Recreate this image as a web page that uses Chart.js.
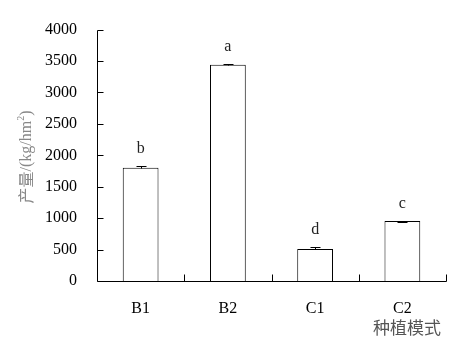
<!DOCTYPE html>
<html>
<head>
<meta charset="utf-8">
<script src="https://cdn.jsdelivr.net/npm/chart.js@4"></script>
<style>
  html, body { margin: 0; padding: 0; background: #fff; }
  #wrap { width: 459px; height: 344px; }
</style>
</head>
<body>
<div id="wrap"><canvas id="yield-chart"></canvas></div>
<script>
"use strict";

// data
var categories = ["B1", "B2", "C1", "C2"];
var yieldValues = [1800, 3440, 510, 955];
var errUp = [28, 12, 35, 0];
var errDown = [0, 0, 0, 22];
var sigLetters = ["b", "a", "d", "c"];
var yTicks = [0, 500, 1000, 1500, 2000, 2500, 3000, 3500, 4000];

var serif = "'Liberation Serif', 'Times New Roman', serif";
var cjk = "'Noto Sans CJK SC', sans-serif";

// axes, inner tick marks, error bars, letters and axis titles
var decorations = {
  id: "decorations",
  afterDraw: function(chart) {
    var ctx = chart.ctx;
    var x = chart.scales.x, y = chart.scales.y;
    var meta = chart.getDatasetMeta(0);
    var axX = Math.round(y.right) + 0.5;
    var axY = Math.round(y.getPixelForValue(0)) + 0.5;
    var step = x.getPixelForValue(1) - x.getPixelForValue(0);
    var right = x.getPixelForValue(categories.length - 1) + step / 2;

    ctx.save();
    ctx.lineWidth = 1;
    ctx.strokeStyle = "#000";
    ctx.beginPath();
    // axis lines
    ctx.moveTo(axX, Math.round(y.getPixelForValue(4000)) + 0.5);
    ctx.lineTo(axX, axY);
    ctx.lineTo(Math.round(right) + 0.5, axY);
    // y ticks pointing inward
    yTicks.forEach(function(t) {
      var py = Math.round(y.getPixelForValue(t)) + 0.5;
      ctx.moveTo(axX, py);
      ctx.lineTo(axX + 6, py);
    });
    // x ticks at category boundaries, pointing up
    for (var i = 0; i < categories.length; i++) {
      var px = Math.round(x.getPixelForValue(i) + step / 2) + 0.5;
      ctx.moveTo(px, axY);
      ctx.lineTo(px, axY - 7);
    }
    ctx.stroke();

    meta.data.forEach(function(bar, i) {
      var v = yieldValues[i];
      var cx = Math.round(bar.x) + 0.5;
      var top = Math.round(y.getPixelForValue(v + errUp[i])) + 0.5;
      var bot = Math.round(y.getPixelForValue(v - errDown[i])) + 0.5;
      ctx.beginPath();
      ctx.moveTo(cx, top);
      ctx.lineTo(cx, bot);
      if (errUp[i]) { ctx.moveTo(cx - 5, top); ctx.lineTo(cx + 5, top); }
      if (errDown[i]) { ctx.moveTo(cx - 5, bot); ctx.lineTo(cx + 5, bot); }
      ctx.stroke();

      ctx.fillStyle = "#222";
      ctx.font = "16px " + serif;
      ctx.textAlign = "center";
      ctx.textBaseline = "bottom";
      ctx.fillText(sigLetters[i], bar.x, y.getPixelForValue(v + errUp[i]) - 9);
    });

    // axis titles
    ctx.fillStyle = "#555";
    ctx.font = "17px " + cjk;
    ctx.textAlign = "center";
    ctx.textBaseline = "middle";
    ctx.fillText("种植模式", 407, 328);

    ctx.translate(26, 157);
    ctx.rotate(-Math.PI / 2);
    ctx.fillStyle = "#888";
    ctx.font = "16px " + cjk;
    var wA = ctx.measureText("产量").width;
    ctx.font = "16px " + serif;
    var wB = ctx.measureText("/(kg/hm").width;
    var wD = ctx.measureText(")").width;
    ctx.font = "10px " + serif;
    var wC = ctx.measureText("2").width;
    var start = -(wA + wB + wC + wD) / 2;
    ctx.textAlign = "left";
    ctx.font = "16px " + cjk;
    ctx.fillText("产量", start, 0);
    ctx.font = "16px " + serif;
    ctx.fillText("/(kg/hm", start + wA, 1);
    ctx.fillText(")", start + wA + wB + wC, 1);
    ctx.font = "10px " + serif;
    ctx.fillText("2", start + wA + wB, -5);
    ctx.restore();
  }
};

new Chart(document.getElementById("yield-chart"), {
  type: "bar",
  data: {
    labels: categories,
    datasets: [{
      data: yieldValues,
      backgroundColor: "#fff",
      borderColor: "#000",
      borderWidth: 1,
      borderSkipped: "bottom",
      categoryPercentage: 1.0,
      barPercentage: 0.41
    }]
  },
  options: {
    responsive: true,
    maintainAspectRatio: false,
    animation: false,
    layout: { padding: { top: 17, right: 13, left: 0, bottom: 0 } },
    plugins: { legend: { display: false }, tooltip: { enabled: false } },
    scales: {
      x: {
        grid: { display: false, drawTicks: false },
        border: { display: false },
        ticks: { color: "#000", font: { family: serif, size: 16 }, padding: 18 },
        afterFit: function(s) { s.height = 63; }
      },
      y: {
        min: 0, max: 4000,
        afterBuildTicks: function(s) { s.ticks = yTicks.map(function(v) { return { value: v }; }); },
        grid: { display: false, drawTicks: false },
        border: { display: false },
        ticks: {
          color: "#000",
          font: { family: serif, size: 16 },
          padding: 20,
          callback: function(v) { return String(v); }
        },
        afterFit: function(s) { s.width = 97; }
      }
    }
  },
  plugins: [decorations]
});
</script>
</body>
</html>
